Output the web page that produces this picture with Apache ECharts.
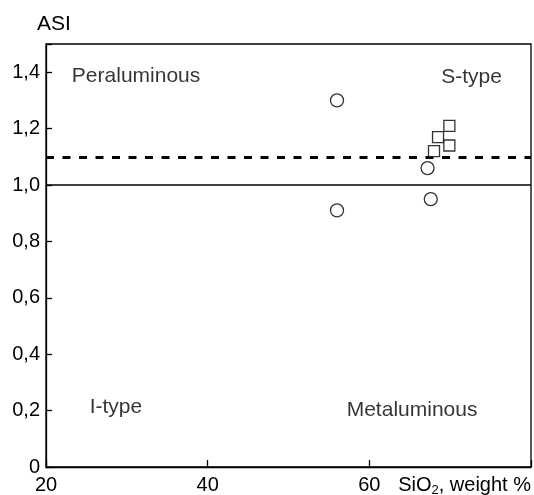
<!DOCTYPE html>
<html>
<head>
<meta charset="utf-8">
<script src="https://cdn.jsdelivr.net/npm/echarts@6/dist/echarts.min.js"></script>
<style>
  html, body { margin: 0; padding: 0; background: #fff; }
  #chart { width: 534px; height: 495px; }
</style>
</head>
<body>
<div id="chart"></div>
<script>
// I-type samples (circles): [SiO2, ASI]
const iTypePoints = [[56.0, 1.30], [56.0, 0.91], [67.2, 1.06], [67.6, 0.95]]
// S-type samples (squares)
const sTypePoints = [[68.0, 1.12], [68.5, 1.17], [69.9, 1.21], [69.9, 1.14]]
// boundary lines
const asiBoundary = 1.0
const sTypeBoundary = 1.1
// field names: [x, y, text]
const fieldLabels = [
  [23.2, 1.387, 'Peraluminous'],
  [68.9, 1.383, 'S-type'],
  [25.4, 0.213, 'I-type'],
  [57.2, 0.202, 'Metaluminous']
]
const xTicks = [20, 40, 60]

const font = '"Liberation Sans", Arial, sans-serif'

const chart = echarts.init(document.getElementById('chart'))

chart.setOption({
  animation: false,
  grid: {
    left: 46,
    right: 2,
    top: 44,
    bottom: 28,
    show: true,
    borderColor: '#000',
    borderWidth: 1.3
  },
  xAxis: {
    type: 'value',
    min: 20,
    max: 80,
    interval: 20,
    axisLine: { lineStyle: { color: '#000', width: 1.3 } },
    axisTick: { inside: true, length: 7, lineStyle: { color: '#000', width: 1.3 } },
    splitLine: { show: false },
    axisLabel: {
      color: '#000',
      fontSize: 20,
      fontFamily: font,
      margin: 8,
      formatter: v => xTicks.includes(v) ? String(v) : ''
    }
  },
  yAxis: {
    type: 'value',
    min: 0,
    max: 1.5,
    interval: 0.2,
    name: 'ASI',
    nameLocation: 'end',
    nameGap: 9,
    nameTextStyle: { color: '#000', fontSize: 21, fontFamily: font, padding: [0, 0, 0, 16] },
    axisLine: { lineStyle: { color: '#000', width: 1.3 } },
    axisTick: { inside: true, length: 6, lineStyle: { color: '#000', width: 1.3 } },
    splitLine: { show: false },
    axisLabel: {
      color: '#000',
      fontSize: 20,
      fontFamily: font,
      margin: 6,
      formatter: v => {
        const r = Math.round(v * 10)
        if (r % 2 !== 0 || r > 14) return ''
        return r === 0 ? '0' : (r / 10).toFixed(1).replace('.', ',')
      }
    }
  },
  graphic: [{
    type: 'text',
    right: 3,
    top: 475,
    style: {
      text: 'SiO{sub|2}, weight %',
      fill: '#000',
      font: '20px ' + font,
      rich: {
        sub: { fontSize: 13, fontFamily: font, fill: '#000', padding: [10, 0, 0, 0] }
      }
    }
  }],
  series: [
    {
      type: 'scatter',
      data: iTypePoints,
      symbol: 'circle',
      symbolSize: 13,
      itemStyle: { color: '#fff', borderColor: '#000', borderWidth: 1.3 },
      z: 5,
      markLine: {
        silent: true,
        symbol: 'none',
        label: { show: false },
        data: [
          { yAxis: asiBoundary, lineStyle: { color: '#000', width: 1.6, type: 'solid' } },
          { yAxis: sTypeBoundary, lineStyle: { color: '#000', width: 3.2, type: [8, 8.5] } }
        ]
      }
    },
    {
      type: 'scatter',
      data: sTypePoints,
      symbol: 'rect',
      symbolSize: 11,
      itemStyle: { color: '#fff', borderColor: '#000', borderWidth: 1.3 },
      z: 5
    },
    {
      type: 'scatter',
      data: fieldLabels,
      symbolSize: 0,
      silent: true,
      label: {
        show: true,
        position: 'right',
        distance: 0,
        color: '#000',
        fontSize: 21,
        fontFamily: font,
        formatter: p => p.data[2]
      }
    }
  ]
})
</script>
</body>
</html>
